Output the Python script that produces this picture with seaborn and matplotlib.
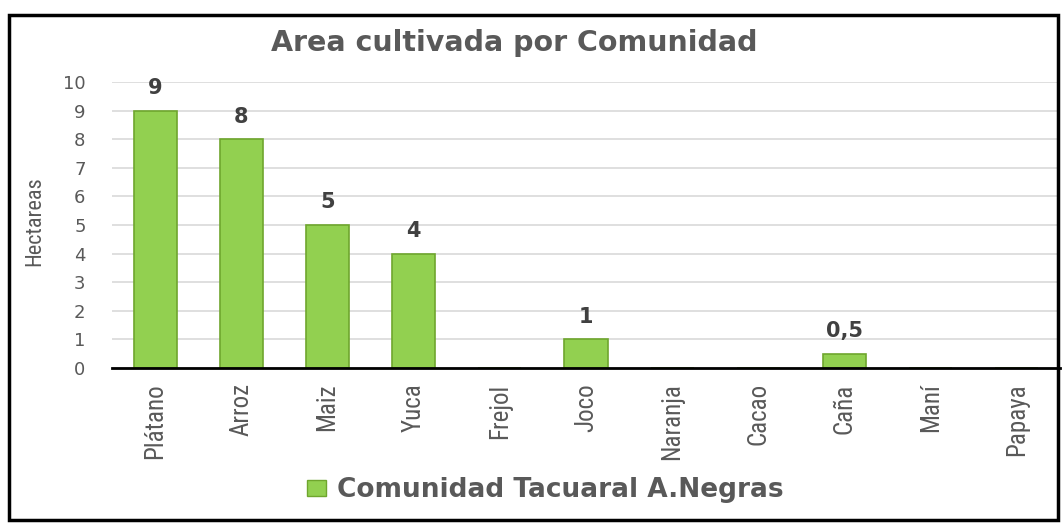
import matplotlib
matplotlib.use("Agg")
import matplotlib.pyplot as plt
from matplotlib import font_manager
import seaborn as sns
import pandas as pd
from matplotlib.patches import Rectangle, Patch

categories = ["Plátano", "Arroz", "Maiz", "Yuca", "Frejol", "Joco",
              "Naranja", "Cacao", "Caña", "Maní", "Papaya"]
values = [9, 8, 5, 4, 0, 1, 0, 0, 0.5, 0, 0]
value_labels = ["9", "8", "5", "4", "", "1", "", "", "0,5", "", ""]
yticks = [0, 1, 2, 3, 4, 5, 6, 7, 8, 9, 10]
series_name = "Comunidad Tacuaral A.Negras"
title = "Area cultivada por Comunidad"
ylabel = "Hectareas"

sns.set_theme(style="white")
plt.rcParams['font.family'] = ['DejaVu Sans']

# pick a condensed family for the rotated labels if one is installed
names = {f.name for f in font_manager.fontManager.ttflist}
narrow = None
for cand in ["Liberation Sans Narrow", "Roboto Condensed", "Open Sans Condensed",
             "DejaVu Sans Condensed", "Noto Sans Condensed"]:
    if cand in names:
        narrow = cand
        break
if narrow is not None:
    xt_font, xt_size, yl_size = [narrow, 'DejaVu Sans'], 18, 16
else:
    xt_font, xt_size, yl_size = ['DejaVu Sans'], 15.5, 13.5

W, H = 1062, 523
fig = plt.figure(figsize=(W / 100, H / 100), dpi=100)
ax = fig.add_axes([112 / W, 1 - 368 / H, (1060 - 112) / W, (368 - 82) / H])

df = pd.DataFrame({"cat": categories, "val": values})
green = "#92D050"
edge = "#6FA62E"
sns.barplot(data=df, x="cat", y="val", color=green, width=0.5,
            edgecolor=edge, linewidth=1.2, saturation=1, ax=ax)

ax.set_ylim(0, 10)
ax.set_xlim(-0.5, len(categories) - 0.5)
ax.set_yticks(yticks)
ax.yaxis.grid(True, color="#D9D9D9", linewidth=1.2)
ax.set_axisbelow(True)
for s in ["top", "right", "left"]:
    ax.spines[s].set_visible(False)
ax.spines["bottom"].set_color("black")
ax.spines["bottom"].set_linewidth(2)

ax.set_xlabel("")
ax.set_ylabel("")
ax.tick_params(axis="y", length=0, pad=19, labelsize=13, labelcolor="#595959")
ax.tick_params(axis="x", length=0, pad=11)
ax.set_xticks(range(len(categories)))
ax.set_xticklabels(categories, rotation=90, fontsize=xt_size, color="#595959",
                   family=xt_font)

ax.bar_label(ax.containers[0], labels=value_labels, padding=9,
             fontsize=15, fontweight="bold", color="#404040")

fig.text(35 / W, 1 - 221 / H, ylabel, rotation=90, ha="center", va="center",
         fontsize=yl_size, color="#595959", family=xt_font)

fig.text(514 / W, 1 - 43 / H, title, ha="center", va="center",
         fontsize=20.5, fontweight="bold", color="#595959")

handle = Patch(facecolor=green, edgecolor=edge, linewidth=1)
fig.legend([handle], [series_name], loc="center",
           bbox_to_anchor=(545 / W, 1 - 490 / H), frameon=False,
           prop={"size": 19, "weight": "bold"}, labelcolor="#595959",
           handlelength=0.75, handleheight=0.55, handletextpad=0.4)

fig.add_artist(Rectangle((9 / W, 3 / H), (1058 - 9) / W, 505 / H,
                         transform=fig.transFigure, fill=False,
                         edgecolor="black", linewidth=2.5))

fig.savefig("out.png", dpi=100)
